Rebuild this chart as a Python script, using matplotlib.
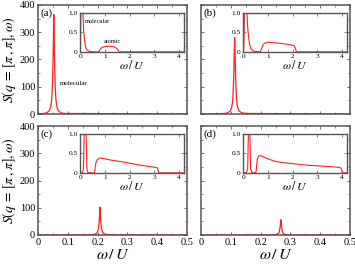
import matplotlib
matplotlib.use("Agg")
import matplotlib.pyplot as plt
from matplotlib.ticker import MultipleLocator

plt.rcParams['font.family'] = ['Liberation Serif', 'DejaVu Serif']
plt.rcParams['mathtext.fontset'] = 'stix'

# ---------------- data ----------------
panel_labels = ['(a)', '(b)', '(c)', '(d)']

# main panels: sharp molecular peak (omega, S)
main_w_a = [0.0, 0.020, 0.030, 0.038, 0.043, 0.046, 0.048, 0.050, 0.051, 0.052, 0.053,
            0.054, 0.055, 0.056, 0.058, 0.060, 0.063, 0.068, 0.076, 0.090, 0.5]
main_s_a = [0, 2, 5, 12, 28, 55, 95, 170, 230, 300, 365, 300, 230, 170, 95, 55, 28, 12, 5, 2, 0]

main_w_b = [0.0, 0.080, 0.090, 0.098, 0.103, 0.106, 0.108, 0.110, 0.111, 0.112, 0.113,
            0.114, 0.115, 0.116, 0.118, 0.120, 0.123, 0.128, 0.136, 0.150, 0.5]
main_s_b = [0, 2, 5, 11, 24, 45, 80, 140, 190, 240, 280, 240, 190, 140, 80, 45, 24, 11, 5, 2, 0]

main_w_c = [0.0, 0.175, 0.185, 0.193, 0.198, 0.201, 0.203, 0.205, 0.206, 0.207, 0.208,
            0.209, 0.210, 0.211, 0.213, 0.215, 0.218, 0.223, 0.231, 0.245, 0.5]
main_s_c = [0, 1, 2, 4, 8, 15, 25, 45, 62, 80, 102, 80, 62, 45, 25, 15, 8, 4, 2, 1, 0]

main_w_d = [0.0, 0.235, 0.245, 0.253, 0.258, 0.261, 0.263, 0.265, 0.266, 0.267, 0.268,
            0.269, 0.270, 0.271, 0.273, 0.275, 0.278, 0.283, 0.291, 0.305, 0.5]
main_s_d = [0, 0.5, 1, 2, 4, 8, 14, 25, 34, 44, 56, 44, 34, 25, 14, 8, 4, 2, 1, 0.5, 0]

# insets: molecular peak + atomic continuum (omega, S)
ins_w_a = [0.0, 0.01, 0.03, 0.05, 0.08, 0.10, 0.13, 0.16, 0.20, 0.25, 0.30, 0.40, 0.50,
           0.75, 0.78, 0.85, 0.95, 1.05, 1.15, 1.25, 1.35, 1.45, 1.52, 1.56, 4.2]
ins_s_a = [0.0, 0.6, 2.0, 3.0, 2.0, 1.0, 0.55, 0.32, 0.15, 0.06, 0.03, 0.01, 0.0,
           0.0, 0.05, 0.10, 0.13, 0.14, 0.145, 0.14, 0.13, 0.10, 0.05, 0.0, 0.0]

ins_w_b = [0.0, 0.02, 0.04, 0.09, 0.14, 0.17, 0.20, 0.25, 0.30, 0.40, 0.50,
           0.68, 0.72, 0.80, 0.90, 1.00, 1.30, 1.60, 1.90, 2.05, 2.11, 2.15, 4.2]
ins_s_b = [0.0, 0.3, 1.0, 3.0, 1.0, 0.65, 0.42, 0.2, 0.08, 0.02, 0.01,
           0.0, 0.06, 0.19, 0.23, 0.245, 0.23, 0.21, 0.18, 0.16, 0.08, 0.0, 0.0]

ins_w_c = [0.0, 0.08, 0.12, 0.15, 0.19, 0.23, 0.26, 0.30, 0.40, 0.56,
           0.58, 0.62, 0.70, 0.82, 1.20, 1.70, 2.20, 2.70, 3.05, 3.12, 3.18, 4.2]
ins_s_c = [0.0, 0.01, 0.1, 1.0, 3.0, 1.0, 0.1, 0.01, 0.0, 0.0,
           0.05, 0.25, 0.35, 0.38, 0.33, 0.28, 0.22, 0.17, 0.14, 0.13, 0.0, 0.0]

ins_w_d = [0.0, 0.12, 0.17, 0.20, 0.23, 0.26, 0.29, 0.34, 0.45, 0.50,
           0.52, 0.56, 0.62, 0.70, 0.90, 1.25, 1.60, 2.07, 2.50, 3.00, 3.50, 3.88, 3.96, 4.02, 4.2]
ins_s_d = [0.0, 0.01, 0.1, 1.0, 3.0, 1.0, 0.1, 0.01, 0.0, 0.0,
           0.08, 0.35, 0.43, 0.44, 0.38, 0.30, 0.26, 0.23, 0.20, 0.18, 0.16, 0.14, 0.12, 0.0, 0.0]

main_x_ticks = [0, 0.1, 0.2, 0.3, 0.4, 0.5]
main_x_labels = ['0', '0.1', '0.2', '0.3', '0.4', '0.5']
main_y_ticks = [0, 100, 200, 300, 400]
ins_x_ticks = [0, 1, 2, 3, 4]
ins_y_ticks = [0, 0.5, 1.0]
ins_y_labels = ['0', '0.5', '1.0']

main_series = [(main_w_a, main_s_a), (main_w_b, main_s_b), (main_w_c, main_s_c), (main_w_d, main_s_d)]
ins_series = [(ins_w_a, ins_s_a), (ins_w_b, ins_s_b), (ins_w_c, ins_s_c), (ins_w_d, ins_s_d)]

# ---------------- layout ----------------
W, H = 355, 268
fig = plt.figure(figsize=(W / 100, H / 100), dpi=100)

lefts = [38 / W, 201 / W]
width = 149 / W
tops = [1 - 5 / H, 1 - 126 / H]
height = 109 / H

red = '#ff2020'
spine_col = '#555555'

def style_spines(ax, lw):
    for s in ax.spines.values():
        s.set_color(spine_col)
        s.set_linewidth(lw)

for i in range(4):
    r, c = divmod(i, 2)
    ax = fig.add_axes([lefts[c], tops[r] - height, width, height])
    w, s = main_series[i]
    ax.plot(w, s, color=red, lw=0.9)
    ax.set_xlim(0, 0.5)
    ax.set_ylim(0, 400)
    ax.set_xticks(main_x_ticks)
    ax.xaxis.set_minor_locator(MultipleLocator(0.05))
    ax.set_yticks(main_y_ticks)
    ax.yaxis.set_minor_locator(MultipleLocator(50))
    ax.tick_params(which='both', direction='in', top=True, right=True,
                   labelsize=7.5, pad=2, colors=spine_col, labelcolor='black')
    ax.tick_params(which='major', length=2.5, width=0.6)
    ax.tick_params(which='minor', length=1.5, width=0.5)
    if r == 1:
        ax.set_xticklabels(main_x_labels)
        ax.set_xlabel(r'$\omega\,/\,U$', fontsize=11.5, labelpad=0)
    else:
        ax.set_xticklabels([])
    if c == 0:
        ax.set_ylabel(r'$S(q\,=\,[\pi\,,\pi],\omega)$', fontsize=10, labelpad=1)
    else:
        ax.set_yticklabels([])
    style_spines(ax, 1.1)
    ax.text(0.02, 0.97, panel_labels[i], transform=ax.transAxes, fontsize=8,
            va='top', ha='left')
    if i == 0:
        ax.text(0.075, 112, 'molecular', fontsize=5, va='center', ha='left')

    # inset
    ins = ax.inset_axes([0.28, 0.57, 0.70, 0.36])
    wi, si = ins_series[i]
    ins.plot(wi, si, color=red, lw=0.8)
    ins.set_xlim(-0.03, 4.2)
    ins.set_ylim(0, 1.0)
    ins.set_xticks(ins_x_ticks)
    ins.set_yticks(ins_y_ticks)
    ins.set_yticklabels(ins_y_labels)
    ins.tick_params(which='both', direction='in', top=True, right=True,
                    labelsize=5.3, pad=1.5, length=2, width=0.5,
                    colors=spine_col, labelcolor='black')
    ins.set_xlabel(r'$\omega\,/\,U$', fontsize=8.5, labelpad=0)
    style_spines(ins, 1.0)
    if i == 0:
        ins.text(0.18, 0.78, 'molecular', fontsize=4.5, va='center', ha='left')
        ins.text(1.3, 0.27, 'atomic', fontsize=4.5, va='center', ha='center')

fig.savefig('out.png', dpi=100)
